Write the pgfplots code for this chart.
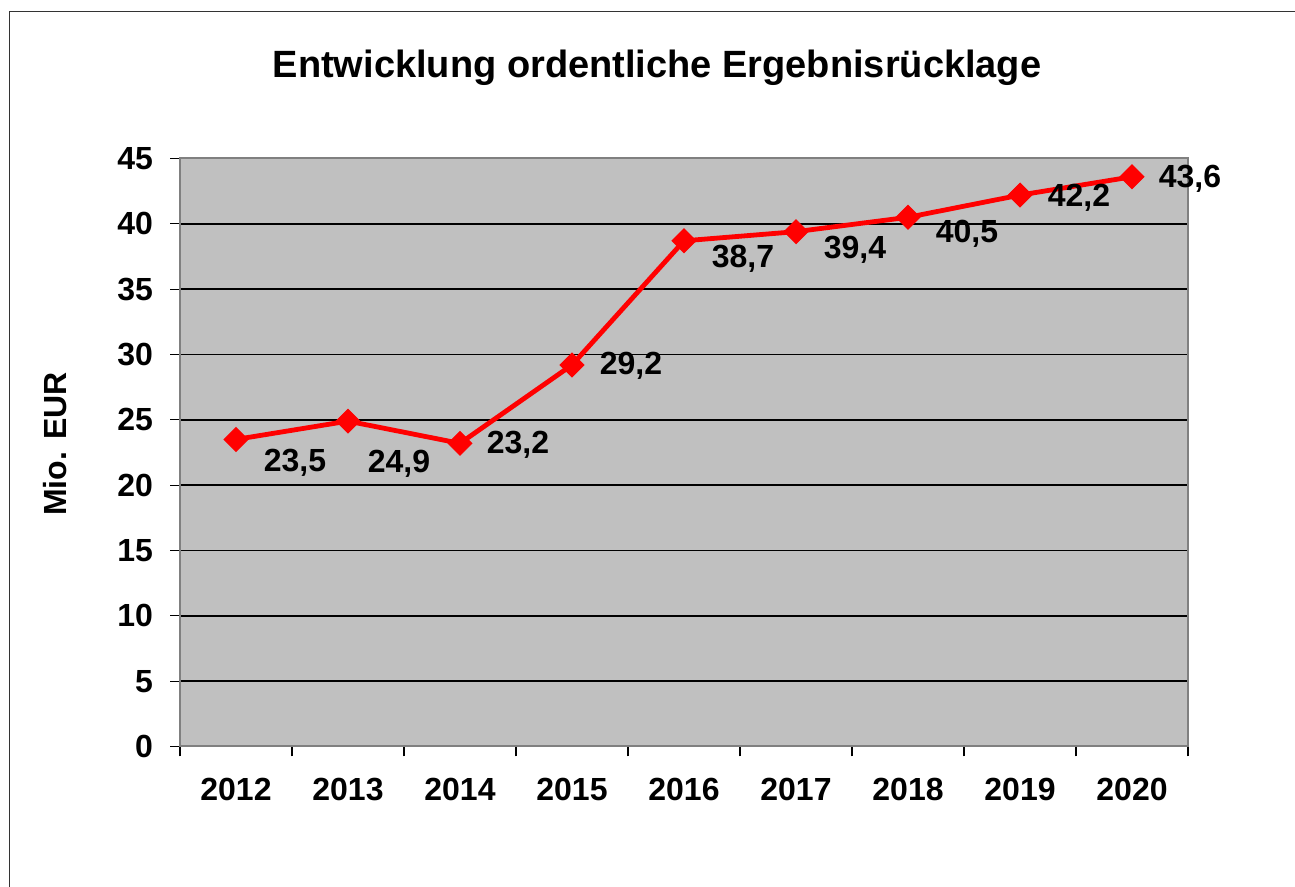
\documentclass[border=0pt]{standalone}
\usepackage{pgfplots}
\pgfplotsset{compat=1.18}
\usepackage{fontspec}
\setmainfont{Liberation Sans}
\definecolor{plotgray}{HTML}{C0C0C0}
\definecolor{framegray}{HTML}{808080}
\pgfplotstableread{
x y
0 23.5
1 24.9
2 23.2
3 29.2
4 38.7
5 39.4
6 40.5
7 42.2
8 43.6
}\datatable
\begin{document}
\begin{tikzpicture}[x=0.5pt,y=0.5pt]
\useasboundingbox (0,0) rectangle (1295,887);
\draw[black!80, line width=0.5pt] (9,0) -- (9,875) -- (1295,875);
\node[font=\fontsize{19}{22}\selectfont\bfseries] at (657,819) {Entwicklung ordentliche Ergebnisrücklage};
\node[font=\fontsize{16}{19}\selectfont\bfseries, rotate=90] at (55,443) {Mio. EUR};
\begin{axis}[
  at={(90pt,70.25pt)}, anchor=south west,
  width=504pt, height=294pt, scale only axis,
  axis background/.style={fill=plotgray},
  axis line style={framegray, line width=1pt},
  xmin=-0.5, xmax=8.5, ymin=0, ymax=45,
  ytick={0,5,...,45},
  xtick={-0.5,0.5,...,8.5},
  x tick label as interval,
  xticklabels={2012,2013,2014,2015,2016,2017,2018,2019,2020},
  tick align=outside,
  major tick length=5pt,
  tick style={black, line width=0.6pt},
  xtick pos=bottom, ytick pos=left,
  ymajorgrids,
  grid style={black, line width=0.8pt},
  ticklabel style={font=\fontsize{16}{19}\selectfont\bfseries},
  /pgf/number format/assume math mode=true,
  yticklabel style={xshift=-5pt},
  xticklabel style={yshift=-7.5pt},
  clip=false,
]
\addplot[red, line width=2.4pt, mark=square*, mark size=4.2pt, mark options={rotate=45, solid, line width=0.5pt}] table[x=x,y=y] {\datatable};
\begin{scope}[every node/.style={font=\fontsize{16}{19}\selectfont\bfseries}]
\node at (axis cs:0.527,21.73) {23,5};
\node at (axis cs:1.455,21.6) {24,9};
\node at (axis cs:2.518,23.1) {23,2};
\node at (axis cs:3.527,29.15) {29,2};
\node at (axis cs:4.527,37.3) {38,7};
\node at (axis cs:5.527,38.0) {39,4};
\node at (axis cs:6.527,39.25) {40,5};
\node at (axis cs:7.527,42.0) {42,2};
\node at (axis cs:8.518,43.46) {43,6};
\end{scope}
\end{axis}
\end{tikzpicture}
\end{document}
